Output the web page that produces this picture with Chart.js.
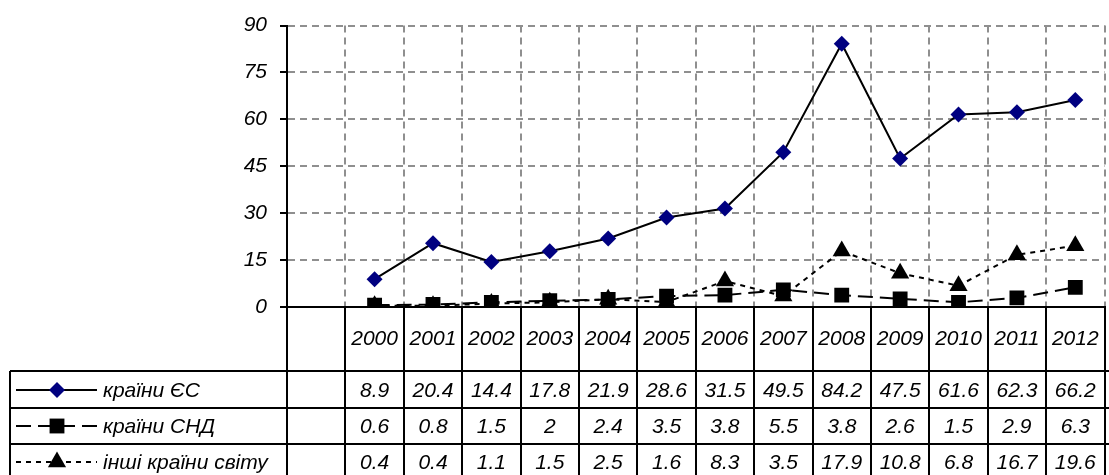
<!DOCTYPE html>
<html lang="uk">
<head>
<meta charset="utf-8">
<title>Країни ЄС, СНД та інші країни світу, 2000–2012</title>
<script src="https://cdn.jsdelivr.net/npm/chart.js@4/dist/chart.umd.min.js"></script>
<style>
  html, body { margin: 0; padding: 0; background: #fff; overflow: hidden; }
  #wrap { width: 1115px; height: 475px; }
</style>
</head>
<body>
<div id="wrap"><canvas id="chart" width="1115" height="475"></canvas></div>
<script>
'use strict';

/* ── Дані (з таблиці під графіком) ─────────────────────────────── */
const YEARS = ['2000', '2001', '2002', '2003', '2004', '2005', '2006',
               '2007', '2008', '2009', '2010', '2011', '2012'];
const EU    = [8.9, 20.4, 14.4, 17.8, 21.9, 28.6, 31.5, 49.5, 84.2, 47.5, 61.6, 62.3, 66.2];
const CIS   = [0.6, 0.8, 1.5, 2, 2.4, 3.5, 3.8, 5.5, 3.8, 2.6, 1.5, 2.9, 6.3];
const OTHER = [0.4, 0.4, 1.1, 1.5, 2.5, 1.6, 8.3, 3.5, 17.9, 10.8, 6.8, 16.7, 19.6];
const Y_TICKS = [0, 15, 30, 45, 60, 75, 90];

// перша колонка таблиці порожня, тому на осі X є порожня категорія
const LABELS = [''].concat(YEARS);
const pad = arr => [null].concat(arr);

const FONT = '"Liberation Sans", Arial, sans-serif';
const FONT_SIZE = 21;
const GRID = '#8f8f8f';

const SERIES = [
  { label: 'країни ЄС', data: EU, dash: [], style: 'rectRot', radius: 8, fill: '#000080' },
  { label: 'країни СНД', data: CIS, dash: [15, 7], style: 'rect', radius: 10.5, fill: '#000' },
  { label: 'інші країни світу', data: OTHER, dash: [5, 5], style: 'triangle', radius: 10.5, fill: '#000' },
];

/* ── Таблиця даних під графіком ────────────────────────────────── */
const dataTable = {
  id: 'dataTable',
  afterDraw(chart) {
    const { ctx, scales: { x, y } } = chart;
    const n = LABELS.length;
    const colW = (x.right - x.left) / n;
    const top = y.bottom;
    const rowLines = [371, 408, 444];
    const rowMid = [390, 426, 462];
    const tableLeft = 10;
    const bottom = chart.height;

    ctx.save();
    ctx.strokeStyle = '#000';
    ctx.lineWidth = 2;
    ctx.setLineDash([]);
    ctx.beginPath();
    for (let i = 0; i <= n; i++) {
      const xx = Math.round(x.left + i * colW);
      ctx.moveTo(xx, top);
      ctx.lineTo(xx, bottom);
    }
    rowLines.forEach(ry => { ctx.moveTo(tableLeft, ry); ctx.lineTo(chart.width, ry); });
    ctx.moveTo(tableLeft, rowLines[0]);
    ctx.lineTo(tableLeft, bottom);
    ctx.stroke();

    ctx.fillStyle = '#000';
    ctx.font = `italic ${FONT_SIZE}px ${FONT}`;
    ctx.textAlign = 'center';
    ctx.textBaseline = 'middle';
    YEARS.forEach((yr, i) => ctx.fillText(yr, x.getPixelForValue(i + 1), 339));

    chart.data.datasets.forEach((ds, r) => {
      const cy = rowMid[r];
      ctx.textAlign = 'center';
      SERIES[r].data.forEach((v, i) => ctx.fillText(String(v), x.getPixelForValue(i + 1), cy + 1));

      // зразок лінії з маркером
      ctx.save();
      ctx.strokeStyle = ds.borderColor;
      ctx.lineWidth = ds.borderWidth;
      ctx.setLineDash(ds.borderDash);
      ctx.beginPath();
      ctx.moveTo(16, cy);
      ctx.lineTo(97, cy);
      ctx.stroke();
      ctx.setLineDash([]);
      ctx.fillStyle = ds.pointBackgroundColor;
      Chart.helpers.drawPoint(ctx, {
        pointStyle: ds.pointStyle, radius: ds.pointRadius, rotation: 0, borderWidth: 0,
      }, 57, cy);
      ctx.restore();

      ctx.textAlign = 'left';
      ctx.fillText(ds.label, 103, cy + 1);
    });
    ctx.restore();
  },
};

/* ── Графік ────────────────────────────────────────────────────── */
new Chart(document.getElementById('chart'), {
  type: 'line',
  data: {
    labels: LABELS,
    datasets: SERIES.map(s => ({
      label: s.label,
      data: pad(s.data),
      borderColor: '#000',
      borderWidth: 2,
      borderDash: s.dash,
      pointStyle: s.style,
      pointRadius: s.radius,
      pointHoverRadius: s.radius,
      pointBackgroundColor: s.fill,
      pointBorderColor: s.fill,
      pointBorderWidth: 0,
      tension: 0,
      fill: false,
    })),
  },
  options: {
    responsive: false,
    animation: false,
    events: [],
    layout: { padding: { top: 25, right: 3, bottom: 0, left: 0 } },
    plugins: { legend: { display: false }, tooltip: { enabled: false } },
    scales: {
      x: {
        type: 'category',
        offset: true,
        grid: { color: GRID, lineWidth: 2, offset: true, drawTicks: false },
        border: { color: '#000', width: 2, dash: [7, 5] },
        ticks: { display: false },
        afterFit: s => { s.height = 168; },
      },
      y: {
        min: 0,
        max: 90,
        afterBuildTicks: s => { s.ticks = Y_TICKS.map(v => ({ value: v })); },
        grid: { color: GRID, lineWidth: 2, tickLength: 7, tickColor: '#000', tickWidth: 2, tickBorderDash: [] },
        border: { color: '#000', width: 2, dash: [7, 5] },
        ticks: { color: '#000', padding: 13, font: { family: FONT, size: FONT_SIZE, style: 'italic' } },
        afterFit: s => { s.width = 287; },
      },
    },
  },
  plugins: [dataTable],
});
</script>
</body>
</html>
